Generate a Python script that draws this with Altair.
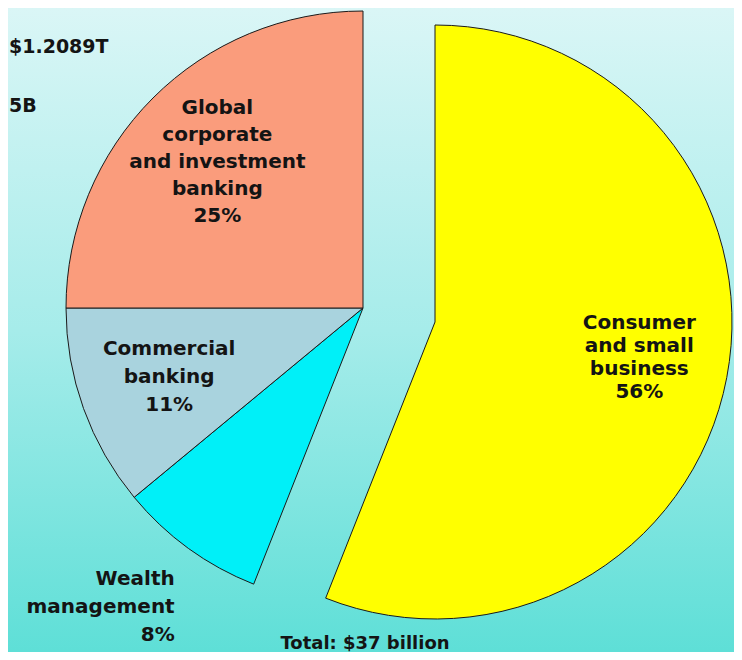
import altair as alt

# ---- data ----
segments = [
    "Consumer and small business",
    "Wealth management",
    "Commercial banking",
    "Global corporate and investment banking",
]
shares = [56, 8, 11, 25]
label_lines = [
    ["Consumer", "and small", "business", "56%"],
    ["Wealth", "management", "8%"],
    ["Commercial", "banking", "11%"],
    ["Global", "corporate", "and investment", "banking", "25%"],
]
total_text = "Total: $37 billion"
side_notes = ["$1.2089T", "5B"]

# ---- styles ----
palette = ["#FFFF00", "#00F0F8", "#A9D3DE", "#FA9C7C"]
FONT = "DejaVu Sans"
TXT = "#141414"
W, H = 726, 644
CX, CY = 355, 300          # pie centre
EX, EY = 427, 314          # exploded slice centre
R = 297

records = [
    {"segment": s, "share": v, "order": i, "label": lab}
    for i, (s, v, lab) in enumerate(zip(segments, shares, label_lines))
]

theta_scale = alt.Scale(domain=[0, 100], range=[0, 6.283185307179586])
color_scale = alt.Scale(domain=segments, range=palette)

base = (
    alt.Chart(alt.Data(values=records))
    .transform_window(cum="sum(share)", sort=[alt.SortField("order")], frame=[None, 0])
    .transform_calculate(start="datum.cum - datum.share", mid="datum.cum - datum.share / 2")
)

arc_enc = dict(
    theta=alt.Theta("start:Q", scale=theta_scale, stack=None),
    theta2=alt.Theta2("cum:Q"),
    color=alt.Color("segment:N", scale=color_scale, legend=None),
)

arcs_main = base.transform_filter("datum.order > 0").mark_arc(
    x=CX, y=CY, radius=R, stroke="#1a1a1a", strokeWidth=1
).encode(**arc_enc)

arcs_expl = base.transform_filter("datum.order == 0").mark_arc(
    x=EX, y=EY, radius=R, stroke="#1a1a1a", strokeWidth=1
).encode(**arc_enc)

lab_theta = alt.Theta("mid:Q", scale=theta_scale, stack=None)


def slice_label(order, cx, cy, radius, lh, dx=0, dy=0, align="center"):
    return base.transform_filter(f"datum.order == {order}").mark_text(
        x=cx, y=cy, radius=radius, dx=dx, dy=dy, font=FONT, fontSize=20,
        fontWeight="bold", lineHeight=lh, color=TXT, align=align, baseline="middle",
    ).encode(theta=lab_theta, text="label:N")


label_consumer = slice_label(0, EX, EY, 208, 23, dy=-38)
label_wealth = slice_label(1, CX, CY, 351, 28, dx=18, dy=-13, align="right")
label_commercial = slice_label(2, CX, CY, 206, 28, dy=-29)
label_global = slice_label(3, CX, CY, 206, 27, dy=-54)

one = alt.Data(values=[{}])

bg = alt.Chart(one).mark_rect(
    color=alt.Gradient(
        gradient="linear",
        stops=[
            alt.GradientStop(color="#DAF6F6", offset=0),
            alt.GradientStop(color="#A6ECEA", offset=0.5),
            alt.GradientStop(color="#5EDFD7", offset=1),
        ],
        x1=0, x2=0, y1=0, y2=1,
    )
).encode(x=alt.value(0), x2=alt.value(W), y=alt.value(0), y2=alt.value(H))

note1 = alt.Chart(one).mark_text(
    text=side_notes[0], font=FONT, fontSize=19, fontWeight="bold", color=TXT,
    align="left", baseline="middle",
).encode(x=alt.value(1), y=alt.value(39))

note2 = alt.Chart(one).mark_text(
    text=side_notes[1], font=FONT, fontSize=19, fontWeight="bold", color=TXT,
    align="left", baseline="middle",
).encode(x=alt.value(1), y=alt.value(98))

total = alt.Chart(one).mark_text(
    text=total_text, font=FONT, fontSize=18, fontWeight="bold", color=TXT,
    align="center", baseline="middle",
).encode(x=alt.value(357), y=alt.value(636))

chart = (
    alt.layer(bg, arcs_main, arcs_expl, label_global, label_commercial,
              label_consumer, label_wealth, note1, note2, total)
    .properties(width=W, height=H, padding=0, autosize=alt.AutoSizeParams(type="none"),
                background="#5EDFD7")
    .configure_view(stroke=None)
)

chart.save("out.html", embed_options={"renderer": "svg", "actions": False})
